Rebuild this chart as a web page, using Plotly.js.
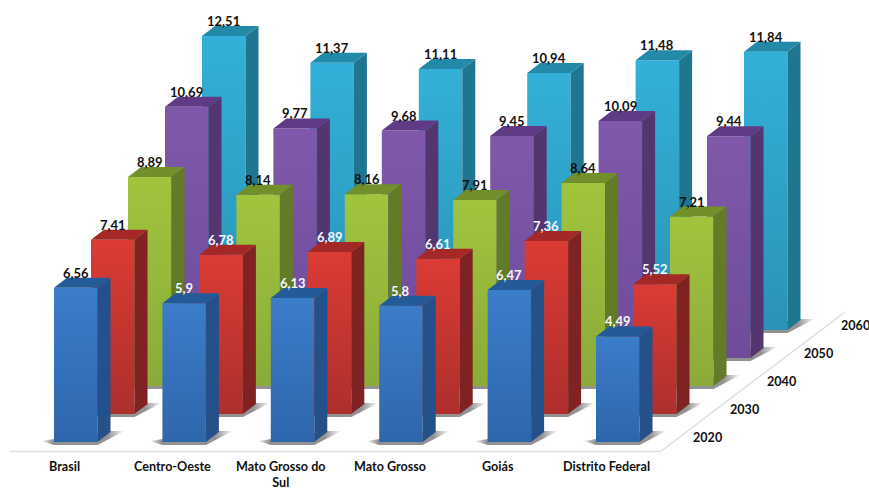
<!DOCTYPE html>
<html>
<head>
<meta charset="utf-8">
<script src="https://cdn.plot.ly/plotly-3.0.1.min.js"></script>
<style>html,body{margin:0;padding:0;background:#fff;overflow:hidden}</style>
</head>
<body>
<div id="chart" style="width:869px;height:489px"></div>
<script>
// Long-range index by region and census year
const categories = ['Brasil', 'Centro-Oeste', 'Mato Grosso do<br>Sul', 'Mato Grosso', 'Goiás', 'Distrito Federal'];
const years = ['2020', '2030', '2040', '2050', '2060'];
const v2020 = [6.56, 5.9, 6.13, 5.8, 6.47, 4.49];
const v2030 = [7.41, 6.78, 6.89, 6.61, 7.36, 5.52];
const v2040 = [8.89, 8.14, 8.16, 7.91, 8.64, 7.21];
const v2050 = [10.69, 9.77, 9.68, 9.45, 10.09, 9.44];
const v2060 = [12.51, 11.37, 11.11, 10.94, 11.48, 11.84];
const series = [v2020, v2030, v2040, v2050, v2060];

// Face colours per year: front gradient (top, bottom), side, cap
const faces = [
  {top: '#3b7dc9', bottom: '#2e66ab', side: '#24518a', cap: '#255a98'},
  {top: '#db3b35', bottom: '#ad2f2c', side: '#7f2322', cap: '#a32826'},
  {top: '#a1c43e', bottom: '#8aab38', side: '#617b27', cap: '#718f2b'},
  {top: '#7f58ab', bottom: '#6f4c9a', side: '#533570', cap: '#5f3b86'},
  {top: '#33b0d9', bottom: '#2a93b6', side: '#1f7690', cap: '#2289a8'}
];
// Years whose value label is light, by [year][region]
const lightLabels = [
  [0, 1, 1, 1, 1, 1],
  [0, 1, 1, 1, 1, 1],
  [0, 0, 0, 0, 0, 0],
  [0, 0, 0, 0, 0, 0],
  [0, 0, 0, 0, 0, 0]
];

// Oblique projection, all expressed in axis units
const pxPerCat = 108.4, pxPerVal = 23.5;
const cx = p => p / pxPerCat, cy = p => p / pxPerVal;
const W = cx(43.5), DX = cx(13), DY = cy(10);   // bar width and depth
const RX = cx(37), RY = cy(28);                 // step between year rows

const traces = [];
function poly(xs, ys, extra) {
  traces.push(Object.assign({
    type: 'scatter', mode: 'lines', x: xs.concat(xs[0]), y: ys.concat(ys[0]),
    fill: 'toself', line: {width: 0}, hoverinfo: 'skip', showlegend: false
  }, extra));
}

// Floor edges
traces.push({
  type: 'scatter', mode: 'lines', hoverinfo: 'skip', showlegend: false,
  x: [cx(-44), cx(606.5), cx(791)], y: [cy(-9.5), cy(-9.5), cy(130)],
  line: {color: '#dcdfe3', width: 1.4}
});

// Rows are painted from the back so nearer bars cover farther ones
for (let j = series.length - 1; j >= 0; j--) {
  const f = faces[j];
  series[j].forEach((val, i) => {
    const x0 = i + j * RX, x1 = x0 + W, b = j * RY, t = b + val;
    // soft floor shadow
    poly([x0 - cx(13), x0, x1, x1 + DX + cx(14), x1 + DX],
         [b + cy(1), b - cy(3), b - cy(3), b + DY + cy(1), b + DY + cy(1)], {
      fillcolor: 'rgba(120,120,120,0.5)',
      fillgradient: {type: 'horizontal', colorscale: [
        [0, 'rgba(110,110,110,0)'], [0.14, 'rgba(110,110,110,0.75)'],
        [0.8, 'rgba(110,110,110,0.75)'], [1, 'rgba(110,110,110,0)']]}
    });
    // front
    poly([x0, x1, x1, x0], [b, b, t, t], {
      fillcolor: f.top,
      fillgradient: {type: 'vertical', colorscale: [[0, f.bottom], [1, f.top]]}
    });
    // side
    poly([x1, x1 + DX, x1 + DX, x1], [b, b + DY, t + DY, t], {fillcolor: f.side});
    // cap
    poly([x0, x1, x1 + DX, x0 + DX], [t, t, t + DY, t + DY], {fillcolor: f.cap});
  });
}

const annotations = [];
// Value labels: decimal comma, centred over the front face
series.forEach((vals, j) => vals.forEach((val, i) => {
  annotations.push({
    x: i + j * RX + W / 2, y: j * RY + val, yshift: 15,
    text: String(val).replace('.', ','), showarrow: false,
    xanchor: 'center', yanchor: 'middle',
    font: {family: 'Lato, sans-serif', size: 13, weight: 700,
           color: lightLabels[j][i] ? '#f4f8fb' : '#111111'}
  });
}));
// Region labels under the front edge
categories.forEach((c, i) => {
  annotations.push({
    x: i + cx(10.5), y: cy(-14.5), text: c, showarrow: false,
    xanchor: 'center', yanchor: 'top', align: 'center',
    font: {family: 'Lato, sans-serif', size: 12.6, weight: 700, color: '#111111'}
  });
});
// Year labels along the right floor edge
years.forEach((yr, j) => {
  annotations.push({
    x: 5 + cx(112) + j * RX - cx(0.8), y: cy(5) + j * RY, text: yr, showarrow: false,
    xanchor: 'center', yanchor: 'middle',
    font: {family: 'Lato, sans-serif', size: 12.6, weight: 700, color: '#111111'}
  });
});

const layout = {
  width: 869, height: 489,
  margin: {l: 0, r: 0, t: 0, b: 0},
  paper_bgcolor: '#ffffff', plot_bgcolor: '#ffffff',
  showlegend: false,
  xaxis: {visible: false, range: [cx(-54), cx(869 - 54)], fixedrange: true},
  yaxis: {visible: false, range: [cy(442 - 489), cy(442)], fixedrange: true},
  annotations
};
Plotly.newPlot('chart', traces, layout, {displayModeBar: false, staticPlot: true});
</script>
</body>
</html>
